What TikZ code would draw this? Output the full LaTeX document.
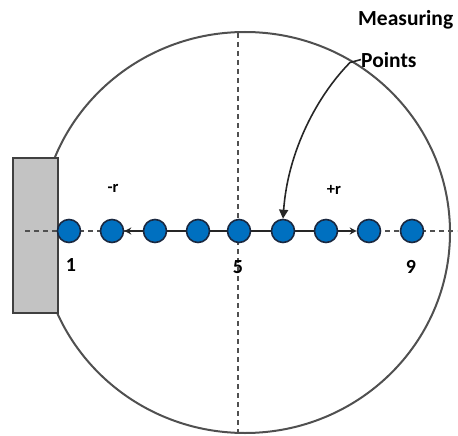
\documentclass[tikz,border=0pt]{standalone}
\usepackage{fontspec}
\setmainfont{Carlito}
\usetikzlibrary{arrows.meta}
\pgfdeclarelayer{background}
\pgfsetlayers{background,main}
\definecolor{dotblue}{HTML}{0070C0}
\definecolor{dotedge}{HTML}{1A2840}
\definecolor{linegray}{HTML}{505050}
\definecolor{wallgray}{HTML}{C3C3C3}
\tikzset{
  dot/.style={circle,fill=dotblue,draw=dotedge,line width=1.6pt,minimum size=23pt,inner sep=0pt},
  axisline/.style={draw=linegray,line width=2.2pt,dash pattern=on 5pt off 4pt},
  outline/.style={draw=linegray,line width=2pt},
  wall/.style={fill=wallgray,draw=black!75,line width=1.6pt},
  radarrow/.style={draw=black!85,line width=1.8pt,-{Stealth[length=7pt,width=7pt]}},
  pointer/.style={draw=black!85,line width=1.6pt,-{Triangle[length=9pt,width=9pt]}},
  bigtxt/.style={font=\bfseries\fontsize{21.5}{25}\selectfont,inner sep=0pt},
  numtxt/.style={font=\bfseries\fontsize{20}{24}\selectfont,inner sep=0pt},
  rtxt/.style={font=\bfseries\fontsize{16.5}{20}\selectfont,inner sep=0pt}
}
\begin{document}
\begin{tikzpicture}[x=1pt,y=-1pt]
\useasboundingbox (0,0) rectangle (458,436);
% measuring points
\foreach \i/\xx in {1/69,2/112,3/155,4/198,5/239,6/283,7/326,8/369,9/412}
  \node[dot] (p\i) at (\xx,231) {};
\coordinate (axL) at (25,231);
\coordinate (axR) at (457,231);
\coordinate (axT) at (238,33);
\coordinate (axB) at (238,433);
\begin{pgfonlayer}{background}
  \draw[outline] (245,232.5) ellipse [x radius=205pt, y radius=200.5pt];
  \draw[wall] (13,158) rectangle (58,313);
  \draw[axisline] (axL) -- (axR);
  \draw[axisline] (axT) -- (axB);
  \draw[radarrow] (p5) -- (p2);
  \draw[radarrow] (p5) -- (p8);
\end{pgfonlayer}
% labels
\node[numtxt] (n1) at (71,265) {1};
\node[numtxt] (n5) at (238,267) {5};
\node[numtxt] (n9) at (411,267) {9};
\node[rtxt] (rm) at (113,188) {-r};
\node[rtxt] (rp) at (334,190) {+r};
\node[bigtxt,anchor=base west] (meas) at (358,26) {Measuring};
\node[bigtxt,anchor=base west] (pts) at (361,67) {Points};
\draw[pointer] (pts.west) -- ++(-11,3) .. controls (318,95) and (288,150) .. (p6.north);
\end{tikzpicture}
\end{document}
